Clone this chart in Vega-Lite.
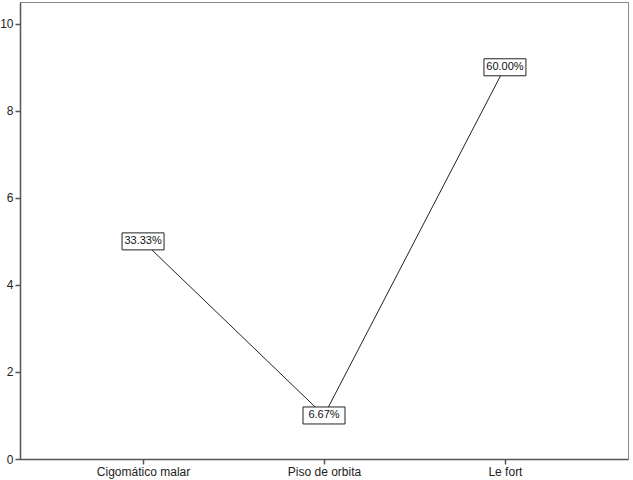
{
  "$schema": "https://vega.github.io/schema/vega-lite/v6.json",
  "width": 608,
  "height": 457,
  "autosize": {"type": "none"},
  "padding": {"left": 20, "top": 2, "right": 5, "bottom": 21},
  "background": "white",
  "config": {
    "view": {"stroke": "#888888", "strokeWidth": 1},
    "axis": {
      "grid": false,
      "domainColor": "#555555",
      "domainWidth": 1.5,
      "tickColor": "#555555",
      "tickWidth": 1.5,
      "tickSize": 5,
      "labelFont": "Liberation Sans",
      "labelFontSize": 12,
      "labelColor": "#222222",
      "labelPadding": 2,
      "title": null
    }
  },
  "data": {
    "values": [
      {"category": "Cigomático malar", "count": 5, "label": "33.33%"},
      {"category": "Piso de orbita", "count": 1, "label": "6.67%"},
      {"category": "Le fort", "count": 9, "label": "60.00%"}
    ]
  },
  "encoding": {
    "x": {
      "field": "category",
      "type": "nominal",
      "sort": null,
      "scale": {"type": "point", "padding": 0.68},
      "axis": {"labelAngle": 0}
    },
    "y": {
      "field": "count",
      "type": "quantitative",
      "scale": {"domain": [0, 10.5], "nice": false},
      "axis": {"values": [0, 2, 4, 6, 8, 10]}
    }
  },
  "layer": [
    {"mark": {"type": "line", "color": "#222222", "strokeWidth": 1}},
    {
      "mark": {
        "type": "point",
        "shape": "M-1,-0.405H1V0.405H-1Z",
        "size": 1764,
        "filled": true,
        "fill": "white",
        "stroke": "#222222",
        "strokeWidth": 1,
        "opacity": 1
      }
    },
    {
      "mark": {
        "type": "text",
        "font": "Liberation Sans",
        "fontSize": 11,
        "color": "#111111",
        "baseline": "middle",
        "align": "center"
      },
      "encoding": {"text": {"field": "label"}}
    }
  ]
}
